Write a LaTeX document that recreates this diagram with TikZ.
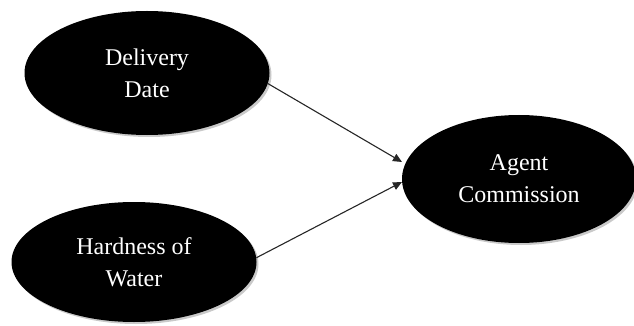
\documentclass[tikz,border=0pt]{standalone}
\usepackage{fontspec}
\setmainfont{Liberation Serif}
\usetikzlibrary{shapes.geometric,shadows,arrows.meta}
\begin{document}
\begin{tikzpicture}[x=1pt,y=-1pt,
  blob/.style={ellipse,fill=black,text=white,inner sep=0pt,align=center,
    font=\fontsize{24}{32}\selectfont,
    drop shadow={shadow xshift=2pt,shadow yshift=-2pt,fill=gray!60,opacity=0.7}},
  link/.style={draw=black!85,line width=1.1pt,-{Triangle[length=9pt,width=8pt]}}]
\useasboundingbox (0,0) rectangle (634,326);
\node[blob,minimum width=245pt,minimum height=124pt] (dd) at (147,73) {Delivery\\Date};
\node[blob,minimum width=245pt,minimum height=120pt] (hw) at (134,262) {Hardness of\\Water};
\node[blob,minimum width=234pt,minimum height=128pt] (ac) at (519,179) {Agent\\Commission};
\coordinate (t1) at (402,162);
\coordinate (t2) at (402,182);
\draw[link] (dd.-5) -- (t1);
\draw[link] (hw.2) -- (t2);
\end{tikzpicture}
\end{document}
